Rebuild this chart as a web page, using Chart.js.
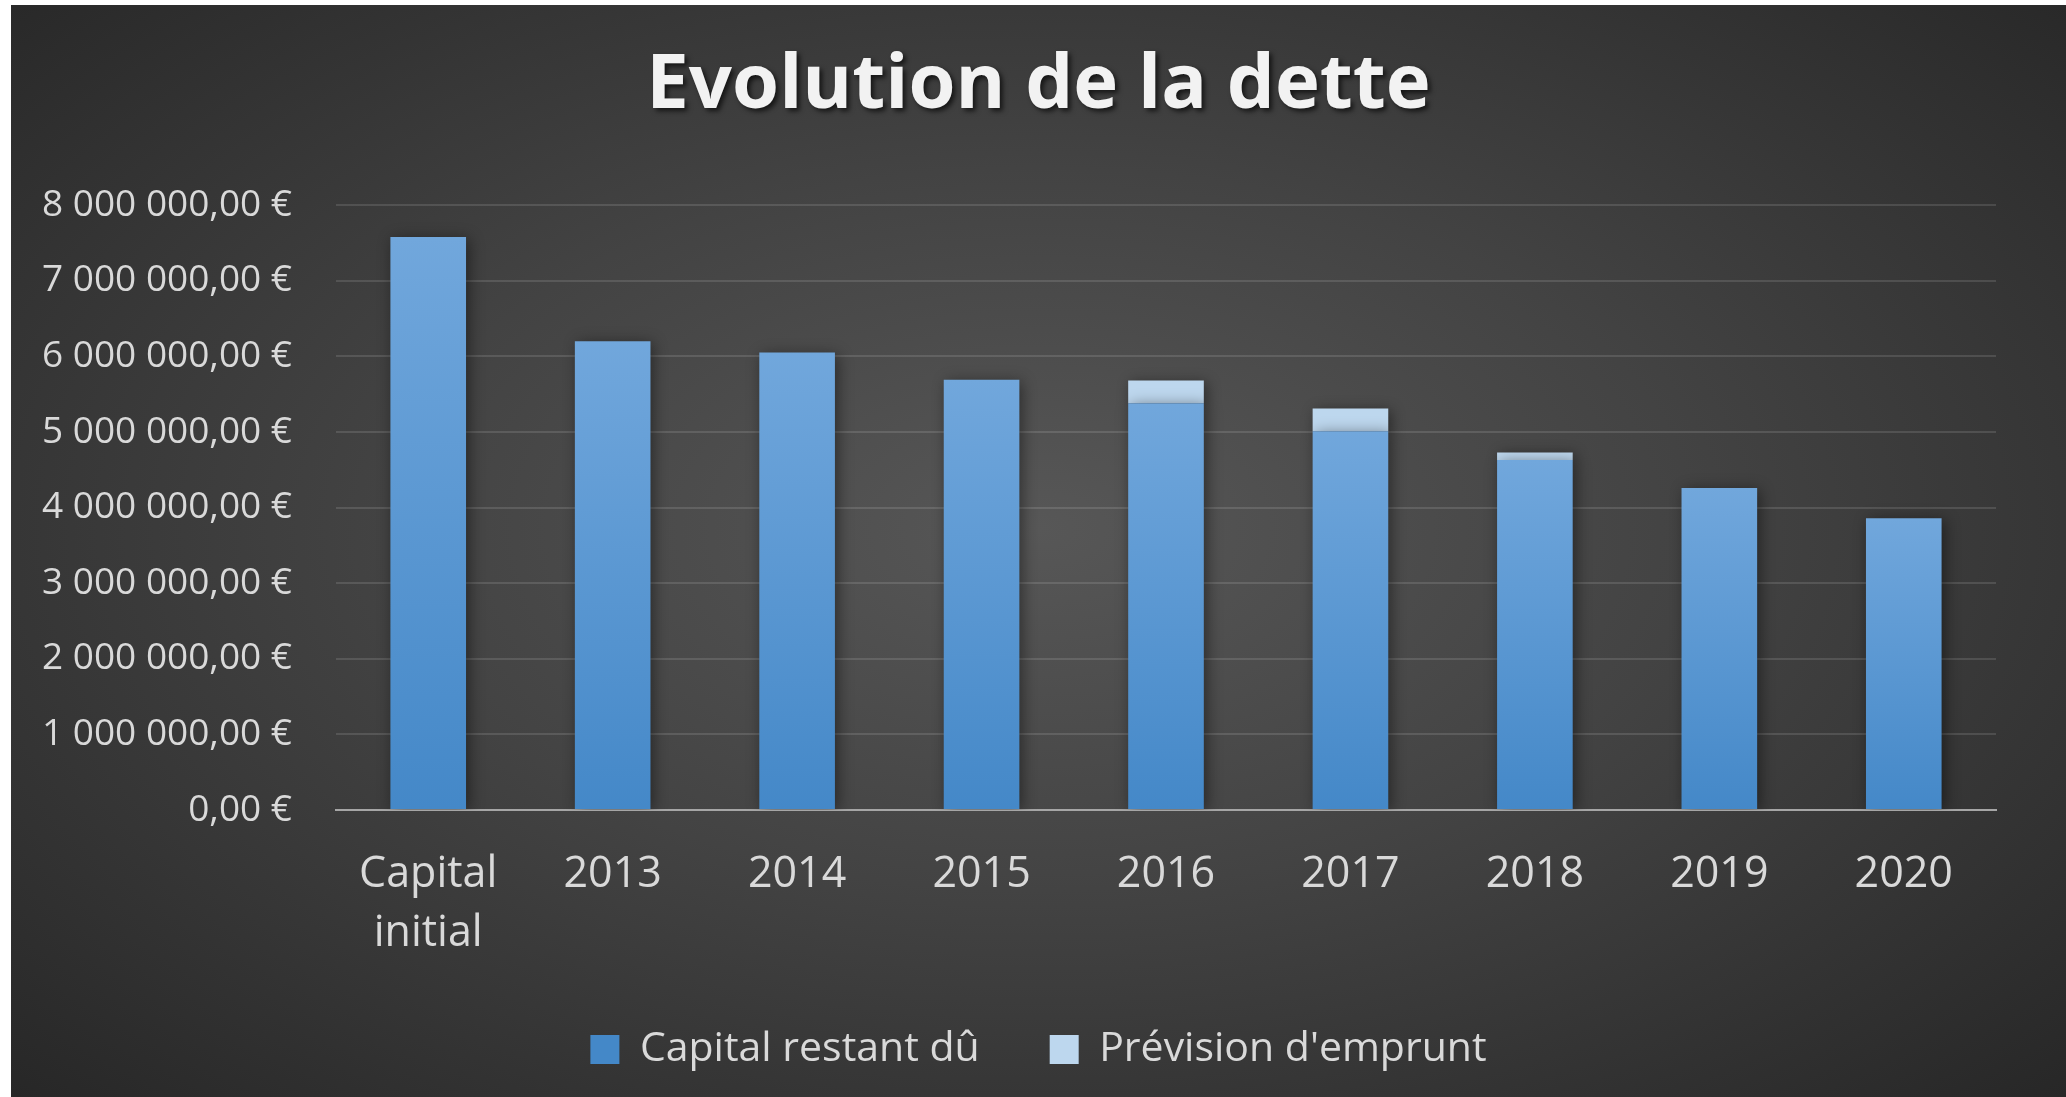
<!DOCTYPE html>
<html lang="fr">
<head>
<meta charset="utf-8">
<title>Evolution de la dette</title>
<script src="https://cdn.jsdelivr.net/npm/chart.js@4/dist/chart.umd.min.js"></script>
<style>
  html, body { margin: 0; padding: 0; background: #fff; }
  #frame {
    position: absolute; left: 11px; top: 5px; width: 2055px; height: 1092px;
    background: radial-gradient(ellipse farthest-corner at 50% 48%, #575757 0%, #434343 45%, #272727 100%);
  }
  #debtChart { display: block; }
</style>
</head>
<body>
<div id="frame"><canvas id="debtChart" width="2055" height="1092"></canvas></div>
<script>
const CATEGORIES = [['Capital', 'initial'], '2013', '2014', '2015', '2016', '2017', '2018', '2019', '2020'];
const CAPITAL_RESTANT = [7580000, 6200000, 6050000, 5690000, 5380000, 5010000, 4630000, 4260000, 3860000];
const PREVISION_EMPRUNT = [null, null, null, null, 300000, 300000, 100000, null, null];
const Y_MIN = 0, Y_MAX = 8000000, Y_STEP = 1000000;

const TEXT = '#d9d9d9';
const FONT = "'Open Sans', 'Noto Sans', sans-serif";

function euro(v) {
  const [int, dec] = Math.abs(v).toFixed(2).split('.');
  const grouped = int.replace(/\B(?=(\d{3})+(?!\d))/g, ' ');
  return `${grouped},${dec} €`;
}

// vertical gradient per bar, from the bar top down to the baseline
function capitalFill(c) {
  const y = c.chart.scales.y;
  if (c.type !== 'data' || !y || c.raw == null) return '#5a97d3';
  const top = y.getPixelForValue(c.raw);
  const base = y.getPixelForValue(0);
  if (!isFinite(top) || !isFinite(base) || top === base) return '#5a97d3';
  const g = c.chart.ctx.createLinearGradient(0, top, 0, base);
  g.addColorStop(0, '#71a7dc');
  g.addColorStop(1, '#4488c8');
  return g;
}

const barShadow = {
  id: 'barShadow',
  beforeDatasetsDraw(chart) {
    const ctx = chart.ctx;
    ctx.save();
    ctx.shadowColor = 'rgba(0,0,0,0.45)';
    ctx.shadowBlur = 14;
    ctx.shadowOffsetX = 3;
    ctx.shadowOffsetY = 2;
  },
  afterDatasetsDraw(chart) { chart.ctx.restore(); }
};

// drop shadow under the title text
const titleShadow = {
  id: 'titleShadow',
  afterInit(chart) {
    const t = chart.titleBlock;
    if (!t) return;
    const draw = t.draw.bind(t);
    t.draw = function () {
      const ctx = chart.ctx;
      ctx.save();
      ctx.shadowColor = 'rgba(0,0,0,0.65)';
      ctx.shadowBlur = 5;
      ctx.shadowOffsetX = 3;
      ctx.shadowOffsetY = 3;
      draw();
      ctx.restore();
    };
  }
};

new Chart(document.getElementById('debtChart'), {
  type: 'bar',
  data: {
    labels: CATEGORIES,
    datasets: [
      { label: 'Capital restant dû', data: CAPITAL_RESTANT, backgroundColor: capitalFill, borderWidth: 0 },
      { label: "Prévision d'emprunt", data: PREVISION_EMPRUNT, backgroundColor: '#bdd7ee', borderWidth: 0 }
    ]
  },
  options: {
    responsive: false,
    animation: false,
    devicePixelRatio: 1,
    barPercentage: 0.41,
    categoryPercentage: 1,
    layout: { padding: { left: 0, right: 0, top: 0, bottom: 17 } },
    plugins: {
      tooltip: { enabled: false },
      title: {
        display: true,
        text: 'Evolution de la dette',
        color: '#f2f2f2',
        font: { family: FONT, size: 76, weight: 'bold', lineHeight: 1.2 },
        padding: { top: 36, bottom: 73 }
      },
      legend: {
        position: 'bottom',
        labels: {
          color: TEXT,
          font: { family: FONT, size: 41 },
          boxWidth: 29,
          boxHeight: 29,
          padding: 70
        }
      }
    },
    scales: {
      x: {
        stacked: true,
        z: 1,
        grid: { display: false, drawTicks: false },
        border: { display: true, color: '#a6a6a6', width: 2 },
        ticks: { color: TEXT, font: { family: FONT, size: 43, lineHeight: 1.37 }, padding: 35, maxRotation: 0 },
        afterFit(scale) { scale.height = 149; }
      },
      y: {
        stacked: true,
        min: Y_MIN,
        max: Y_MAX,
        grid: { color: 'rgba(255,255,255,0.12)', lineWidth: 2, drawTicks: false },
        border: { display: false },
        ticks: { stepSize: Y_STEP, color: TEXT, font: { family: FONT, size: 37 }, padding: 44, callback: v => euro(v) },
        afterFit(scale) { scale.width = 325; }
      },
      // empty right-hand axis, only reserves the margin right of the plot
      spacer: {
        type: 'linear',
        position: 'right',
        grid: { display: false, drawTicks: false },
        border: { display: false },
        ticks: { display: false },
        afterFit(scale) { scale.width = 70; }
      }
    }
  },
  plugins: [barShadow, titleShadow]
});
</script>
</body>
</html>
